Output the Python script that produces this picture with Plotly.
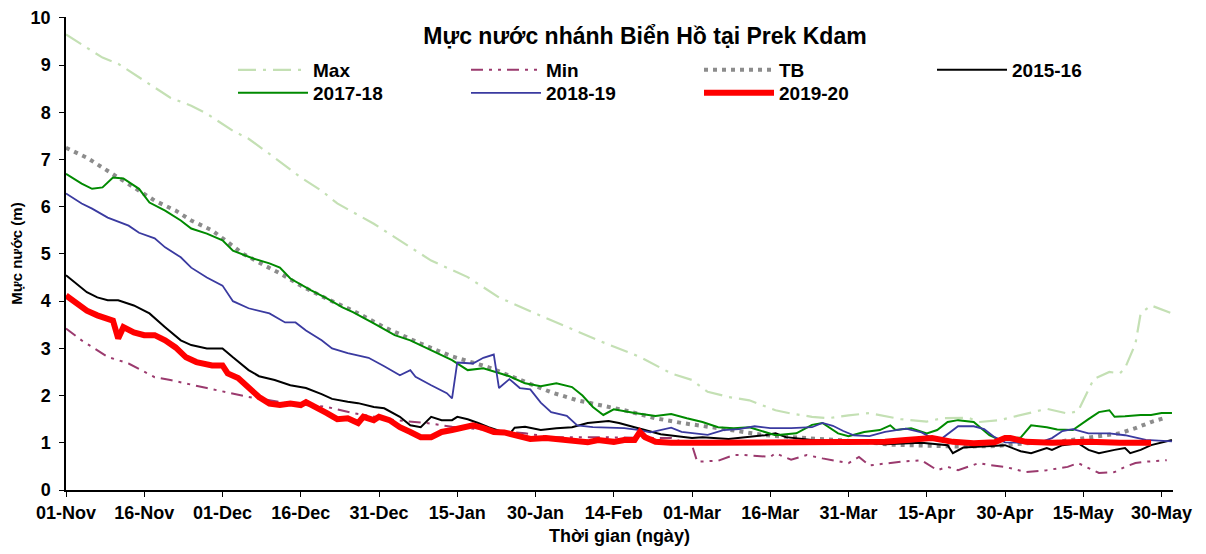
import plotly.graph_objects as go

# ---- data (day index from 01-Nov) ----
tick_days = [0, 15, 30, 45, 60, 75, 90, 105, 120, 135, 150, 165, 180, 195, 210]
tick_labels = ["01-Nov", "16-Nov", "01-Dec", "16-Dec", "31-Dec", "15-Jan", "30-Jan", "14-Feb",
               "01-Mar", "16-Mar", "31-Mar", "15-Apr", "30-Apr", "15-May", "30-May"]
y_ticks = [0, 1, 2, 3, 4, 5, 6, 7, 8, 9, 10]

max_days = [0, 7, 10, 15, 20, 24, 27, 32, 35, 39, 45, 49, 52, 59, 65, 70, 77, 83, 90, 96, 102, 110, 116, 120,
            123, 127, 131, 136, 139, 143, 146, 150, 154, 160, 165, 168, 173, 175, 179, 185, 188, 192, 194, 197,
            200, 202, 203, 205, 206, 208, 209, 212]
max_vals = [9.65, 9.16, 9.03, 8.67, 8.31, 8.14, 7.97, 7.61, 7.44, 7.12, 6.62, 6.34, 6.07, 5.64, 5.22, 4.86, 4.51,
            4.08, 3.74, 3.45, 3.17, 2.82, 2.47, 2.33, 2.08, 1.97, 1.9, 1.69, 1.62, 1.55, 1.52, 1.58, 1.63, 1.5,
            1.45, 1.52, 1.53, 1.44, 1.48, 1.64, 1.72, 1.62, 1.67, 2.35, 2.5, 2.47, 2.58, 3.1, 3.74, 3.91, 3.87, 3.74]

min_days = [0, 3, 8, 12, 17, 20, 27, 35, 43, 50, 55, 63, 69, 74, 88, 93, 100, 110, 116, 120, 121, 125, 128, 130,
            135, 136, 139, 142, 145, 150, 152, 154, 158, 160, 164, 167, 169, 171, 175, 177, 180, 184, 188, 192,
            194, 196, 198, 201, 203, 205, 207, 211]
min_vals = [3.42, 3.17, 2.82, 2.68, 2.39, 2.33, 2.16, 1.97, 1.83, 1.76, 1.63, 1.48, 1.42, 1.34, 1.2, 1.12, 1.12,
            1.1, 1.1, 0.95, 0.6, 0.62, 0.74, 0.74, 0.7, 0.78, 0.64, 0.74, 0.67, 0.57, 0.7, 0.52, 0.57, 0.6, 0.63,
            0.42, 0.49, 0.42, 0.57, 0.53, 0.49, 0.38, 0.42, 0.49, 0.57, 0.46, 0.36, 0.38, 0.49, 0.57, 0.6, 0.63]

tb_days = [0, 4, 7, 10, 14, 17, 21, 24, 28, 31, 34, 38, 41, 45, 50, 55, 61, 68, 74, 81, 87, 93, 98, 103, 107,
           113, 118, 125, 130, 134, 139, 144, 152, 158, 165, 171, 178, 184, 190, 197, 202, 205, 208, 211]
tb_vals = [7.25, 7.04, 6.83, 6.62, 6.34, 6.13, 5.92, 5.71, 5.5, 5.24, 5.0, 4.76, 4.59, 4.33, 4.05, 3.8, 3.45, 3.1,
           2.83, 2.6, 2.33, 2.07, 1.9, 1.78, 1.69, 1.52, 1.42, 1.31, 1.23, 1.16, 1.12, 1.08, 1.03, 0.96, 0.94,
           0.92, 0.93, 0.99, 1.02, 1.12, 1.2, 1.31, 1.44, 1.54]

y1516_days = [0, 2, 4, 6, 8, 10, 13, 16, 17, 19, 22, 24, 27, 30, 32, 35, 37, 40, 43, 46, 49, 51, 54, 56, 59, 61,
              64, 66, 68, 70, 72, 74, 75, 77, 79, 81, 84, 85, 86, 88, 91, 94, 97, 100, 104, 106, 109, 111, 114,
              120, 122, 127, 134, 136, 138, 143, 150, 157, 164, 169, 170, 172, 180, 183, 185, 188, 189, 191, 194,
              196, 198, 201, 203, 204, 206, 208, 212]
y1516_vals = [4.55, 4.37, 4.19, 4.08, 4.02, 4.02, 3.91, 3.74, 3.64, 3.45, 3.17, 3.07, 3.0, 3.0, 2.81, 2.54, 2.41,
              2.33, 2.22, 2.16, 2.03, 1.93, 1.87, 1.84, 1.76, 1.73, 1.55, 1.37, 1.33, 1.55, 1.48, 1.48, 1.55, 1.5,
              1.42, 1.33, 1.22, 1.18, 1.32, 1.34, 1.27, 1.31, 1.33, 1.42, 1.46, 1.42, 1.33, 1.27, 1.18, 1.1, 1.12,
              1.08, 1.16, 1.2, 1.12, 1.06, 1.04, 0.97, 1.0, 0.95, 0.78, 0.9, 0.95, 0.82, 0.78, 0.89, 0.85, 0.95,
              0.99, 0.85, 0.78, 0.85, 0.89, 0.78, 0.85, 0.95, 1.06]

y1718_days = [0, 3, 5, 7, 9, 11, 14, 16, 19, 22, 24, 27, 30, 32, 36, 39, 41, 43, 47, 50, 53, 55, 59, 63, 66, 70,
              74, 77, 80, 85, 88, 91, 94, 97, 99, 101, 103, 105, 109, 113, 116, 119, 122, 125, 128, 131, 134, 136,
              140, 143, 145, 148, 150, 153, 156, 158, 159, 162, 165, 167, 169, 171, 174, 177, 179, 183, 185, 188,
              190, 193, 196, 198, 200, 201, 203, 206, 208, 210, 212]
y1718_vals = [6.7, 6.49, 6.38, 6.41, 6.62, 6.6, 6.38, 6.09, 5.92, 5.71, 5.54, 5.43, 5.29, 5.07, 4.9, 4.8, 4.71,
              4.48, 4.23, 4.06, 3.87, 3.77, 3.53, 3.28, 3.17, 2.96, 2.75, 2.54, 2.58, 2.41, 2.26, 2.2, 2.26, 2.18,
              2.0, 1.76, 1.59, 1.71, 1.63, 1.57, 1.61, 1.52, 1.44, 1.33, 1.31, 1.33, 1.23, 1.16, 1.2, 1.38, 1.42,
              1.2, 1.14, 1.23, 1.27, 1.37, 1.27, 1.31, 1.2, 1.27, 1.44, 1.48, 1.44, 1.16, 1.06, 1.11, 1.37, 1.33,
              1.28, 1.27, 1.5, 1.65, 1.69, 1.55, 1.56, 1.59, 1.59, 1.63, 1.63]

y1819_days = [0, 3, 5, 8, 12, 14, 17, 19, 22, 24, 27, 30, 32, 35, 39, 42, 44, 46, 49, 51, 54, 58, 61, 64, 66, 67,
              70, 73, 74, 75, 78, 80, 82, 83, 85, 87, 89, 91, 93, 96, 98, 101, 107, 110, 112, 116, 118, 120, 123,
              126, 129, 132, 135, 139, 143, 145, 147, 149, 151, 154, 157, 161, 164, 166, 168, 171, 174, 176, 178,
              180, 183, 187, 189, 191, 193, 196, 200, 203, 207, 212]
y1819_vals = [6.28, 6.07, 5.96, 5.77, 5.6, 5.45, 5.33, 5.14, 4.93, 4.71, 4.5, 4.33, 4.0, 3.85, 3.74, 3.55, 3.55,
              3.38, 3.17, 3.0, 2.9, 2.8, 2.62, 2.43, 2.54, 2.4, 2.22, 2.05, 1.94, 2.7, 2.68, 2.8, 2.87, 2.16, 2.35,
              2.16, 2.13, 1.85, 1.65, 1.57, 1.37, 1.33, 1.31, 1.27, 1.22, 1.32, 1.23, 1.2, 1.17, 1.27, 1.29, 1.35,
              1.31, 1.31, 1.33, 1.42, 1.36, 1.25, 1.16, 1.14, 1.23, 1.3, 1.22, 1.1, 1.1, 1.35, 1.35, 1.29, 1.12,
              1.01, 1.0, 1.02, 1.1, 1.25, 1.29, 1.2, 1.2, 1.16, 1.06, 1.03]

y1920_days = [0, 2, 4, 6, 8, 9, 10, 11, 13, 15, 17, 19, 21, 23, 25, 28, 30, 31, 33, 35, 37, 39, 41, 43, 45, 46,
              48, 50, 52, 54, 56, 57, 59, 60, 62, 64, 66, 68, 70, 72, 74, 76, 78, 80, 82, 84, 87, 89, 92, 95, 97,
              100, 102, 105, 107, 109, 110, 111, 113, 116, 123, 129, 135, 142, 148, 154, 157, 161, 166, 170, 174,
              178, 180, 181, 184, 189, 196, 202, 208]
y1920_vals = [4.12, 3.97, 3.8, 3.7, 3.64, 3.59, 3.21, 3.45, 3.34, 3.28, 3.28, 3.17, 3.02, 2.81, 2.71, 2.64, 2.64,
              2.47, 2.37, 2.18, 1.97, 1.83, 1.8, 1.83, 1.8, 1.86, 1.76, 1.63, 1.5, 1.52, 1.42, 1.55, 1.48, 1.55,
              1.48, 1.33, 1.23, 1.12, 1.12, 1.23, 1.27, 1.33, 1.37, 1.31, 1.23, 1.22, 1.12, 1.08, 1.1, 1.06, 1.06,
              1.01, 1.06, 1.02, 1.06, 1.06, 1.23, 1.12, 1.02, 1.0, 1.0, 1.0, 1.01, 1.01, 1.02, 1.02, 1.02, 1.06,
              1.1, 1.02, 0.99, 1.01, 1.1, 1.1, 1.02, 1.0, 1.02, 1.0, 1.0]

FONT = "Liberation Sans, Arial, sans-serif"

fig = go.Figure()
fig.add_trace(go.Scatter(x=max_days, y=max_vals, name="Max", mode="lines", legend="legend",
                         line=dict(color="#c4e0b4", width=2.2, dash="18px,7px,3px,7px")))
fig.add_trace(go.Scatter(x=min_days, y=min_vals, name="Min", mode="lines", legend="legend",
                         line=dict(color="#9b3a6e", width=2, dash="12px,6px,3px,6px,3px,6px")))
fig.add_trace(go.Scatter(x=tb_days, y=tb_vals, name="TB", mode="lines", legend="legend",
                         line=dict(color="#8c8c8c", width=4, dash="4px,5px")))
fig.add_trace(go.Scatter(x=y1516_days, y=y1516_vals, name="2015-16", mode="lines", legend="legend",
                         line=dict(color="#000000", width=2)))
fig.add_trace(go.Scatter(x=y1718_days, y=y1718_vals, name="2017-18", mode="lines", legend="legend2",
                         line=dict(color="#008a00", width=2)))
fig.add_trace(go.Scatter(x=y1819_days, y=y1819_vals, name="2018-19", mode="lines", legend="legend2",
                         line=dict(color="#3a3aa0", width=1.8)))
fig.add_trace(go.Scatter(x=y1920_days, y=y1920_vals, name="2019-20", mode="lines", legend="legend2",
                         line=dict(color="#ff0000", width=6)))

# page body has an 8px margin, so the figure is drawn 8px in from the window edge
OFF = 8
W, H = 1206 - 2 * OFF, 554 - 2 * OFF
PL, PR, PT, PB = 66, 1173, 17, 490          # plot area in window pixels
PW, PH = PR - PL, PB - PT

legend_common = dict(orientation="h", xref="paper", yref="paper",
                     x=(233 - PL) / PW, xanchor="left", yanchor="top",
                     entrywidth=148, entrywidthmode="pixels", itemwidth=70,
                     traceorder="normal", bgcolor="rgba(0,0,0,0)",
                     font=dict(family=FONT, size=19, color="black", weight="bold"))

fig.update_layout(
    width=W, height=H,
    margin=dict(l=PL - OFF, r=W - (PR - OFF), t=PT - OFF, b=H - (PB - OFF), autoexpand=False),
    paper_bgcolor="white", plot_bgcolor="white",
    font=dict(family=FONT, size=18, color="black", weight="bold"),
    title=dict(text="Mực nước nhánh Biển Hồ tại Prek Kdam", xref="container", yref="container",
               x=(645 - OFF) / W, xanchor="center", y=1 - (36 - OFF) / H, yanchor="middle",
               font=dict(family=FONT, size=23, color="black", weight="bold")),
    showlegend=True,
    legend=dict(legend_common, y=(PB - 51) / PH),
    legend2=dict(legend_common, y=(PB - 74) / PH),
    xaxis=dict(range=[0, 212.2], tickmode="array", tickvals=tick_days, ticktext=tick_labels,
               showgrid=False, zeroline=False, showline=True, linecolor="black", linewidth=1.5,
               ticks="outside", ticklen=5, tickcolor="black", ticklabelstandoff=1,
               tickfont=dict(family=FONT, size=18, weight="bold"),
               title=dict(text="Thời gian (ngày)", standoff=31,
                          font=dict(family=FONT, size=18, weight="bold"))),
    yaxis=dict(range=[0, 10.02], tickmode="array", tickvals=y_ticks, showgrid=False, zeroline=False,
               showline=True, linecolor="black", linewidth=1.5,
               ticks="outside", ticklen=5, tickcolor="black", ticklabelstandoff=5,
               tickfont=dict(family=FONT, size=18, weight="bold"),
               title=dict(text="Mực nước (m)", standoff=16,
                          font=dict(family=FONT, size=15, weight="bold"))),
)

fig.write_html("out.html")
